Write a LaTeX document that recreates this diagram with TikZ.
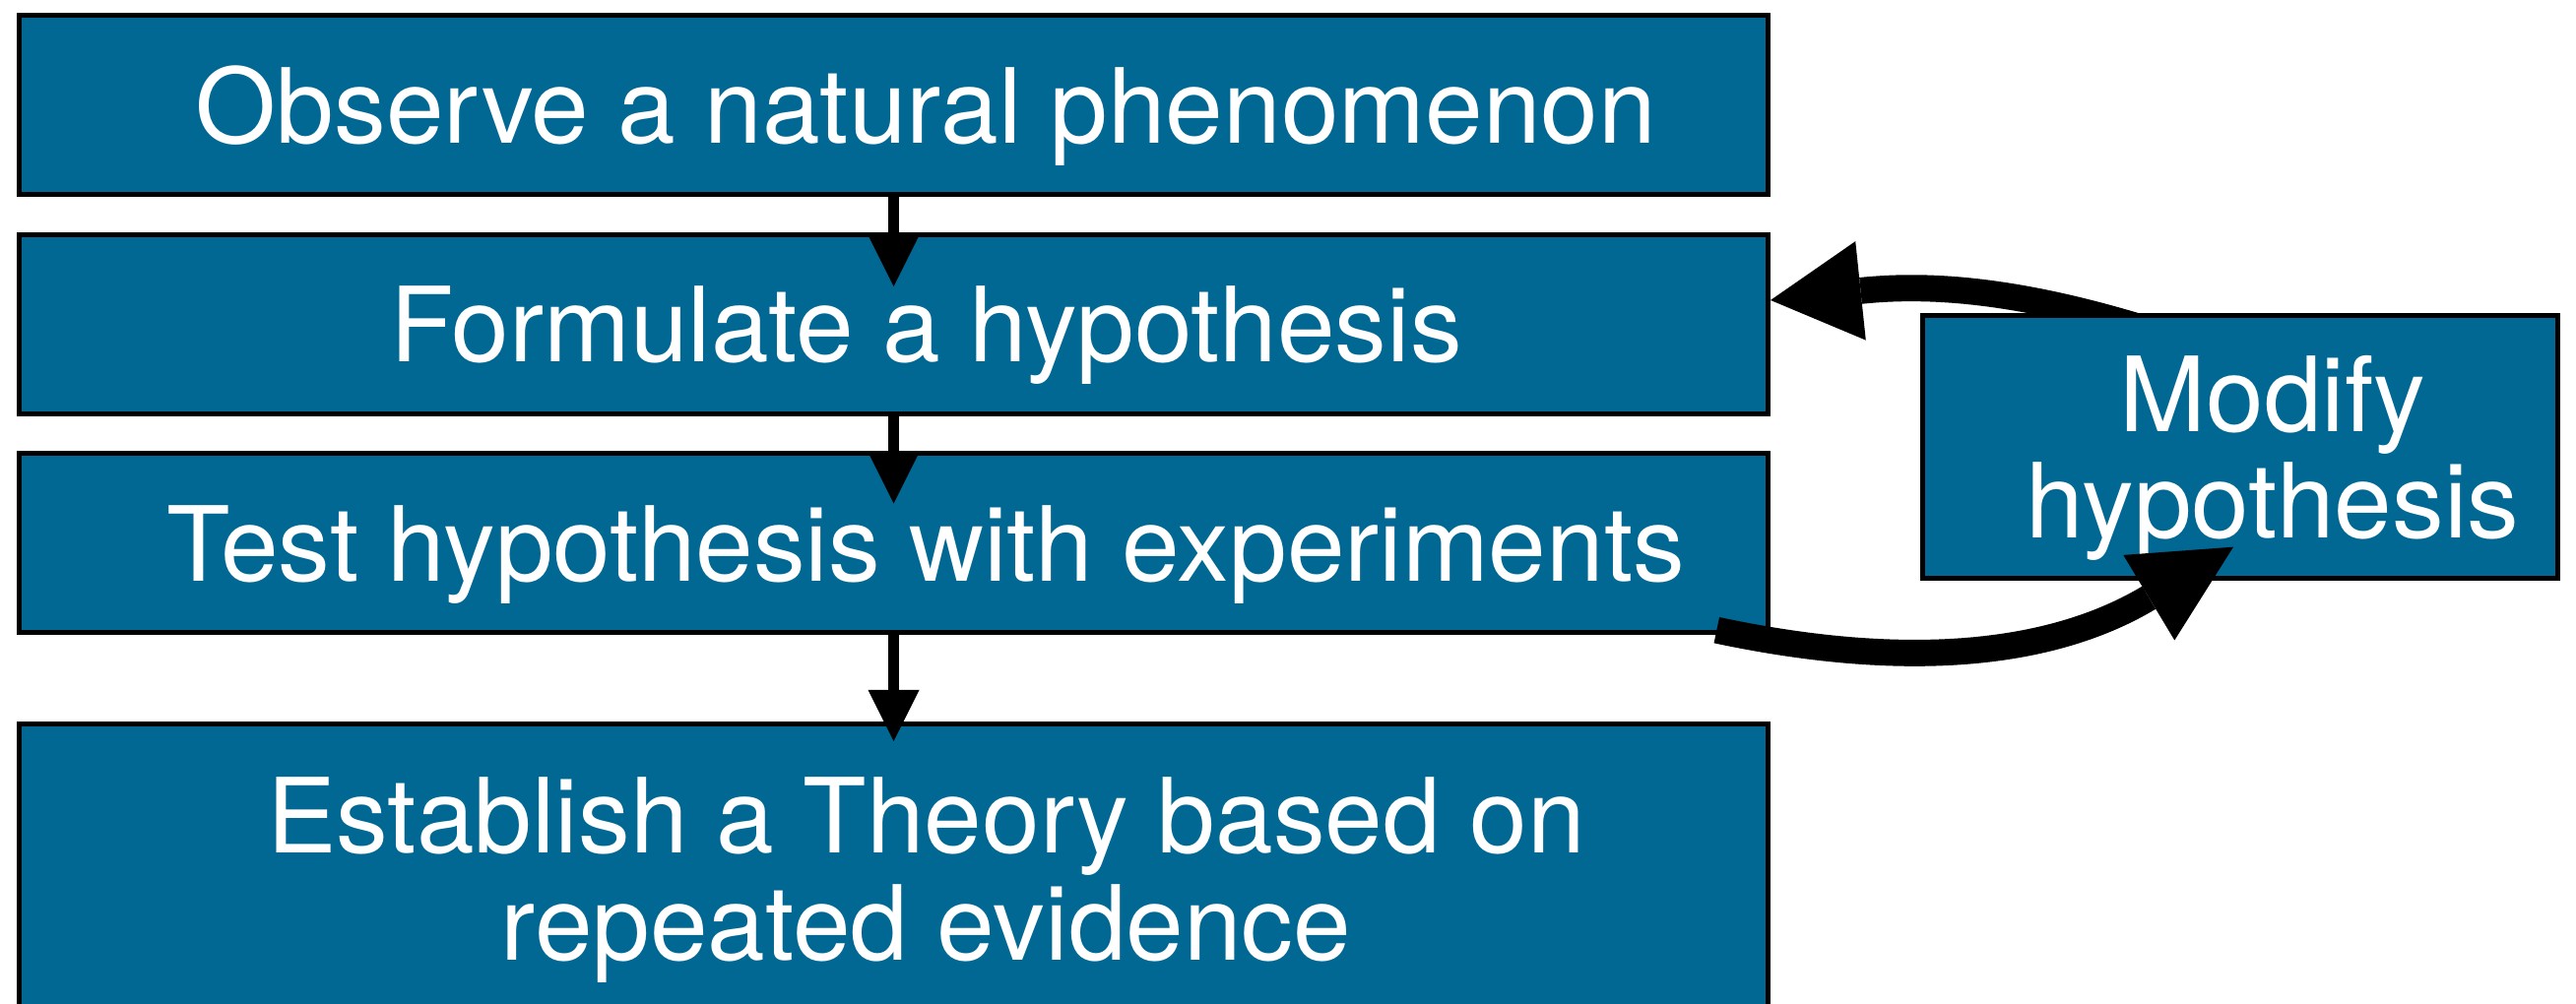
\documentclass[tikz,border=0pt]{standalone}
\usepackage{fontspec}
\setmainfont{TeX Gyre Heros}
\usepackage{tikz}
\usetikzlibrary{arrows.meta, positioning, backgrounds}
\definecolor{sciblue}{RGB}{1,104,148}
\tikzset{
  stepbox/.style = {rectangle, draw=black, line width=1.42pt, fill=sciblue,
    minimum width=17.76cm, minimum height=1.82cm, inner sep=0pt},
  steptext/.style = {text=white, align=center, xshift=0.33cm, text depth=0pt,
    font=\fontsize{30}{30.8}\selectfont},
  flow/.style = {line width=3.4pt, -{Triangle[width=5.2mm, length=5.2mm, line width=0pt]}},
  feedback/.style = {line width=7.65pt, -{Triangle[width=10.1mm, length=#1, line width=0pt]}},
  feedback/.default = 9.2mm,
}
\begin{document}
\begin{tikzpicture}
  \clip (0,0) rectangle (26.16,10.19);

  % Steps
  \node[stepbox, label={[steptext]center:Observe a natural phenomenon}] (observe) at (9.075,9.125) {};
  \node[stepbox, below=0.36cm of observe, label={[steptext]center:Formulate a hypothesis}] (formulate) {};
  \node[stepbox, below=0.355cm of formulate, label={[steptext]center:Test hypothesis with experiments}] (test) {};
  \node[stepbox, below=0.875cm of test, minimum height=2.94cm,
    label={[steptext]center:Establish a Theory based on\\repeated evidence}] (theory) {};

  % Side step
  \node[stepbox, minimum width=6.45cm, minimum height=2.67cm, anchor=north west,
    label={[steptext]center:Modify\\hypothesis}] (modify) at ([xshift=1.52cm, yshift=-0.82cm]formulate.north east) {};

  % Main arrows
  \draw[flow, shorten >=-5.5mm] (observe) -- (formulate);
  \draw[flow, shorten >=-5.3mm] (formulate) -- (test);
  \draw[flow, shorten >=-2mm] (test) -- (theory);

  % Feedback loop
  \begin{scope}[on background layer]
    \draw[feedback] ([xshift=-0.75cm, yshift=-0.23cm]modify.north) to[out=162, in=6] ([yshift=0.245cm]formulate.east);
  \end{scope}
  \draw[feedback=10mm] ([xshift=-0.547cm, yshift=0.053cm]test.south east) to[out=-12, in=211] ([xshift=3.18cm, yshift=0.343cm]modify.south west);

\end{tikzpicture}
\end{document}
